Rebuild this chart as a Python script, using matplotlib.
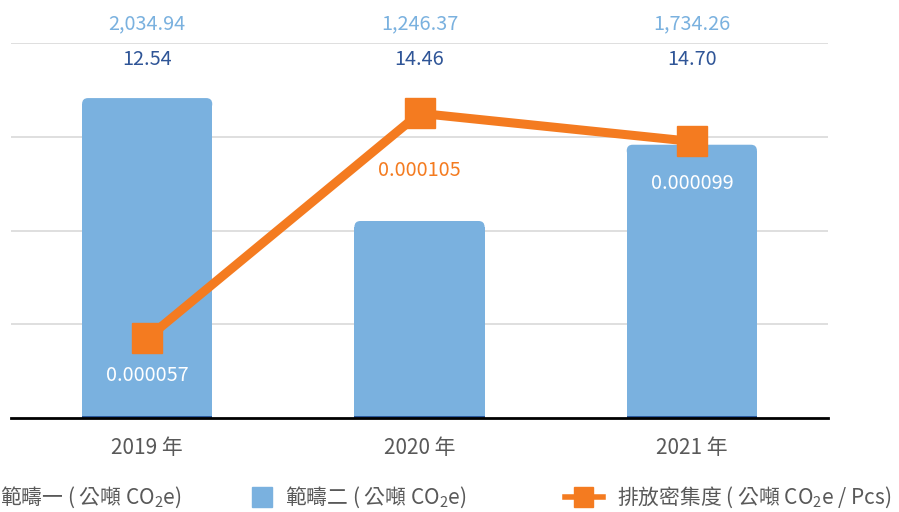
import matplotlib
matplotlib.use("Agg")
import matplotlib.pyplot as plt
import matplotlib.transforms as mtransforms
from matplotlib.patches import FancyBboxPatch, Rectangle
from matplotlib.lines import Line2D

plt.rcParams['font.family'] = ['Noto Sans CJK TC', 'DejaVu Sans']
plt.rcParams['mathtext.fontset'] = 'custom'
plt.rcParams['mathtext.rm'] = 'Noto Sans CJK TC'
plt.rcParams['mathtext.it'] = 'Noto Sans CJK TC'

# data
years = ['2019 年', '2020 年', '2021 年']
scope1 = [12.54, 14.46, 14.70]
scope2 = [2034.94, 1246.37, 1734.26]
intensity = [0.000057, 0.000105, 0.000099]
intensity_labels = ['0.000057', '0.000105', '0.000099']
scope1_labels = ['12.54', '14.46', '14.70']
scope2_labels = ['2,034.94', '1,246.37', '1,734.26']

c_s1 = '#2a5a9e'
c_s2 = '#7ab1df'
c_line = '#f47b20'
c_text = '#595959'
fs = 14.3

fig = plt.figure(figsize=(8.99, 5.12), dpi=100)
ax = fig.add_axes([11 / 899, 94 / 512, 817 / 899, 375 / 512])
x = list(range(len(years)))

ax.bar(x, scope1, width=0.478, color=c_s1, zorder=2)
bars = ax.bar(x, scope2, bottom=scope1, width=0.478, color=c_s2, zorder=2)

# rounded top corners
rx, ry = 0.022, 38.0
for p in bars:
    bx, by, bw, bh = p.get_x(), p.get_y(), p.get_width(), p.get_height()
    p.set_height(bh - ry)
    ax.add_patch(FancyBboxPatch((bx, by + bh - 2 * ry), bw, 2 * ry,
                                boxstyle=f"round,pad=0,rounding_size={rx}",
                                mutation_aspect=ry / rx, color=c_s2,
                                linewidth=0, zorder=2))

ax.set_xlim(-0.5, 2.5)
ax.set_ylim(0, 2400)
ax.set_yticks([600, 1200, 1800, 2400])
ax.grid(axis='y', color='#d9d9d9', linewidth=1.2, zorder=0)
ax.set_axisbelow(True)
for s in ['top', 'right', 'left']:
    ax.spines[s].set_visible(False)
ax.spines['bottom'].set_color('black')
ax.spines['bottom'].set_linewidth(2)
ax.spines['bottom'].set_zorder(5)
ax.set_xticks(x)
ax.set_xticklabels(years, fontsize=15, color=c_text)

trans = mtransforms.blended_transform_factory(ax.transData, ax.transAxes)
for i in x:
    ax.text(i, 1.051, scope2_labels[i], transform=trans, ha='center', va='center',
            fontsize=fs, color=c_s2, clip_on=False)
    ax.text(i, 0.955, scope1_labels[i], transform=trans, ha='center', va='center',
            fontsize=fs, color='#2f5597', clip_on=False)

ax2 = ax.twinx()
ax2.set_ylim(0.00004, 0.00012)
ax2.axis('off')
ax2.plot(x, intensity, color=c_line, linewidth=6.5, marker='s', markersize=22,
         zorder=3, solid_joinstyle='miter')

# twinx turns the left ticks back on
ax.tick_params(axis='y', left=False, right=False, labelleft=False, labelright=False)
ax.tick_params(axis='x', length=0, pad=14)

label_dy = [-27, -41, -30]
label_colors = ['white', c_line, 'white']
for i in x:
    ax2.annotate(intensity_labels[i], (x[i], intensity[i]), xytext=(0, label_dy[i]),
                 textcoords='offset points', ha='center', va='center',
                 fontsize=fs, color=label_colors[i])

# legend drawn by hand (left item partly out of frame)
ly = 15 / 512
fig.text(0 / 899, ly, '範疇一 ( 公噸 CO$_2$e)', ha='left', va='center',
         fontsize=15, color=c_text)
fig.patches.append(Rectangle((252 / 899, ly - 10 / 512), 20 / 899, 20 / 512,
                             transform=fig.transFigure, color=c_s2))
fig.text(285 / 899, ly, '範疇二 ( 公噸 CO$_2$e)', ha='left', va='center',
         fontsize=15, color=c_text)
fig.lines.append(Line2D([565 / 899, 603 / 899], [ly, ly], transform=fig.transFigure,
                        color=c_line, linewidth=4))
fig.patches.append(Rectangle((574 / 899, ly - 10 / 512), 19 / 899, 20 / 512,
                             transform=fig.transFigure, color=c_line))
fig.text(617 / 899, ly, '排放密集度 ( 公噸 CO$_2$e / Pcs)', ha='left', va='center',
         fontsize=15, color=c_text)

fig.savefig('out.png', dpi=100)
